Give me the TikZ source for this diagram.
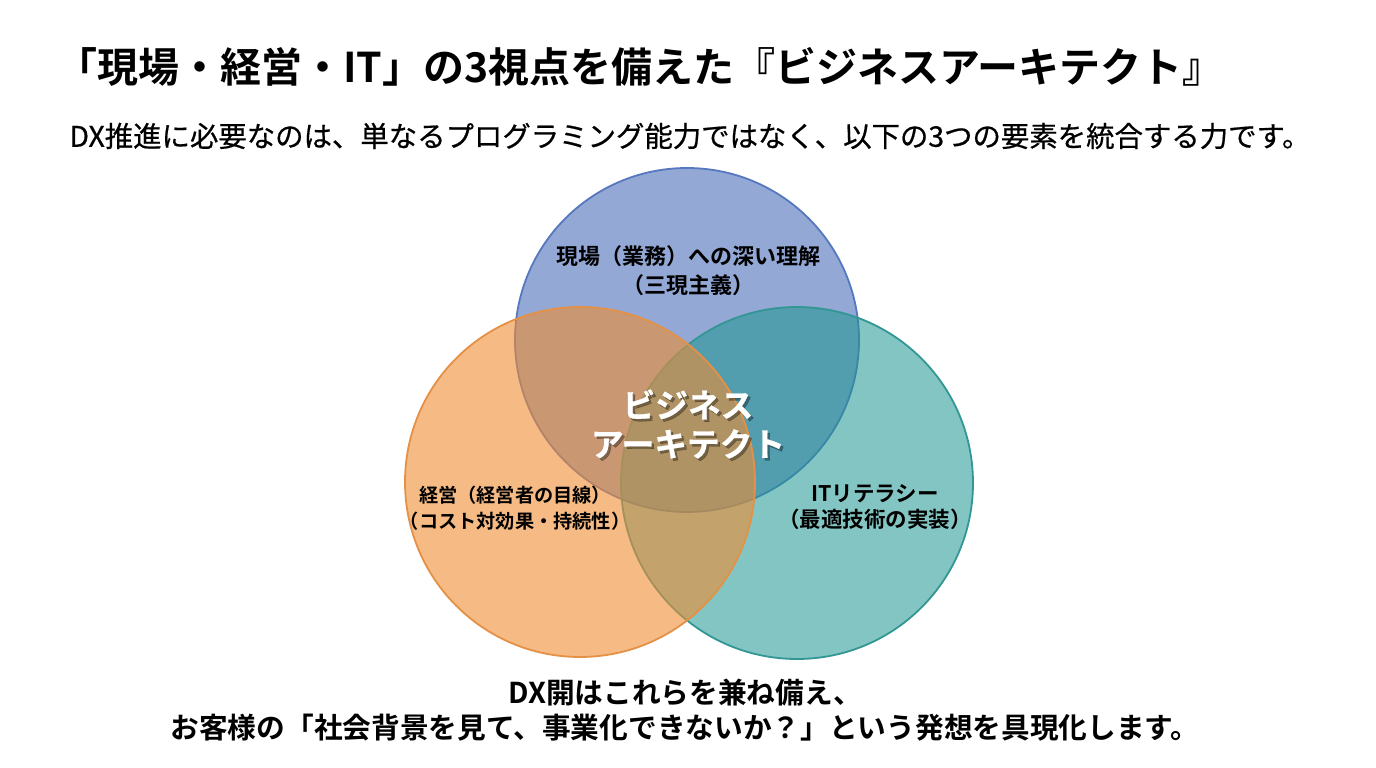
\documentclass[tikz,border=0pt]{standalone}
\usepackage{fontspec}
\newfontfamily\jp{Noto Sans CJK JP}[FakeBold=0.6]
\newfontfamily\jpb{Noto Sans CJK JP Bold}
\newfontfamily\jpbb{Noto Sans CJK JP Bold}[FakeBold=0.8]
\definecolor{bfill}{RGB}{75,110,185}
\definecolor{ofill}{RGB}{240,140,50}
\definecolor{tfill}{RGB}{30,150,145}
\definecolor{bedge}{RGB}{85,120,190}
\definecolor{oedge}{RGB}{228,145,70}
\definecolor{tedge}{RGB}{50,150,148}
\tikzset{
  venn/.style={circle, draw, line width=1.8pt, inner sep=0pt},
  lbl/.style={align=center, text=black, inner sep=0pt, font=#1},
}
\begin{document}
\begin{tikzpicture}[x=1pt,y=-1pt]
\useasboundingbox[fill=white] (0,0) rectangle (1376,768);
% circles
\node[venn, minimum size=344pt, draw=bedge, fill=bfill, fill opacity=0.6] (blue) at (687,340) {};
\node[venn, minimum size=352pt, draw=tedge, fill=tfill, fill opacity=0.55] (teal) at (797,483) {};
\node[venn, minimum size=350pt, draw=oedge, fill=ofill, fill opacity=0.6] (orange) at (580,482) {};
% title
\node[lbl={\jpb\fontsize{41}{46}\selectfont}] (title) at (640,67) {「現場・経営・IT」の3視点を備えた『ビジネスアーキテクト』};
\node[lbl={\jp\fontsize{28.4}{33}\selectfont}] (sub) at (690,136) {DX推進に必要なのは、単なるプログラミング能力ではなく、以下の3つの要素を統合する力です。};
% circle labels
\node[lbl={\jpb\fontsize{22}{29}\selectfont}] (tlab) at (688,271) {現場（業務）への深い理解\\（三現主義）};
\node[lbl={\jpb\fontsize{19.2}{26}\selectfont}] (olab) at (515,508) {経営（経営者の目線）\\（コスト対効果・持続性）};
\node[lbl={\jpb\fontsize{21.5}{26}\selectfont}] (ilab) at (875,507) {ITリテラシー\\（最適技術の実装）};
% center
\node[lbl={\jpbb\fontsize{32.7}{39}\selectfont}, text=black, text opacity=0.35] (cshadow) at (690.5,426.5) {ビジネス\\アーキテクト};
\node[lbl={\jpbb\fontsize{32.7}{39}\selectfont}, text=white] (center) at (688,424) {ビジネス\\アーキテクト};
% bottom
\node[lbl={\jpb\fontsize{28.7}{35}\selectfont}] (bottom) at (685,710) {DX開はこれらを兼ね備え、\\お客様の「社会背景を見て、事業化できないか？」という発想を具現化します。};
\end{tikzpicture}
\end{document}
